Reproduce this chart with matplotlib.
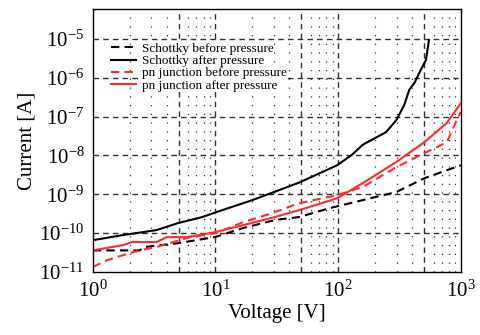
import matplotlib
matplotlib.use("Agg")
import matplotlib.pyplot as plt
import numpy as np

plt.rcParams['font.family'] = ['Liberation Serif', 'DejaVu Serif']
plt.rcParams['mathtext.fontset'] = 'stix'

# Schottky before pressure (black dashed)
v_sb = [1, 2.4, 2.65, 4.9, 10, 16.7, 31, 48, 85, 159, 298, 505, 1000]
i_sb = [3.6e-11, 3.6e-11, 4.4e-11, 5.5e-11, 8.0e-11, 1.35e-10, 2.2e-10, 2.6e-10,
        4.4e-10, 7.1e-10, 1.15e-9, 2.6e-9, 5.6e-9]

# Schottky after pressure (black solid)
v_sa = [1, 1.75, 3.3, 4.9, 7.8, 10.2, 20, 48, 98, 130, 159, 200, 246, 298, 346, 380,
        420, 457, 520, 550]
i_sa = [6.6e-11, 8.9e-11, 1.2e-10, 1.8e-10, 2.6e-10, 3.5e-10, 7.1e-10, 2.0e-9,
        5.6e-9, 1.05e-8, 1.9e-8, 2.8e-8, 4.0e-8, 8.1e-8, 2.0e-7, 4.9e-7,
        7.5e-7, 1.3e-6, 2.9e-6, 9.3e-6]

# pn junction before pressure (red dashed)
v_pb = [1, 1.3, 1.75, 2.4, 3.3, 4.2, 5.1, 6.2, 10, 16.7, 29, 48, 98, 159, 298, 505, 770, 940, 1000]
i_pb = [1.35e-11, 2.0e-11, 2.7e-11, 3.6e-11, 4.4e-11, 5.5e-11, 6.6e-11, 7.9e-11,
        1.0e-10, 1.9e-10, 3.3e-10, 5.9e-10, 9.5e-10, 1.55e-9, 5.0e-9, 1.15e-8,
        2.2e-8, 9.1e-8, 1.3e-7]

# pn junction after pressure (red solid)
v_pa = [1, 1.75, 2.1, 3.3, 4.0, 5.8, 7.4, 10, 16.7, 29, 48, 98, 159, 298, 505, 770, 1000]
i_pa = [3.6e-11, 4.9e-11, 5.9e-11, 5.9e-11, 7.9e-11, 7.9e-11, 8.9e-11, 1.07e-10,
        1.6e-10, 2.5e-10, 3.9e-10, 7.9e-10, 1.95e-9, 6.8e-9, 2.2e-8, 6.9e-8, 2.2e-7]

labels = ['Schottky before pressure', 'Schottky after pressure',
          'pn junction before pressure', 'pn junction after pressure']

fig = plt.figure(figsize=(4.81, 3.35), dpi=100)
ax = fig.add_axes([0.193, 0.188, 0.765, 0.785])
ax.set_xscale('log')
ax.set_yscale('log')
ax.set_xlim(1, 1000)
ax.set_ylim(1e-11, 10 ** -4.23)

# grid: dashed at decades and at 5x, dotted at the other minor positions
gcol = '#303030'
for dec in [1, 10, 100]:
    for m in range(2, 10):
        x = dec * m
        if m == 5:
            ax.axvline(x, color=gcol, ls=(0, (4, 3)), lw=1.0, zorder=0)
        else:
            ax.axvline(x, color=gcol, ls=(0, (1, 6)), lw=0.9, zorder=0)
for x in [10, 100]:
    ax.axvline(x, color=gcol, ls=(0, (4, 3)), lw=1.0, zorder=0)
for e in range(-10, -4):
    ax.axhline(10.0 ** e, color=gcol, ls=(0, (4, 3)), lw=1.0, zorder=0)

red = '#ff2a2a'
ax.plot(v_sb, i_sb, color='black', ls=(0, (4, 2.5)), lw=1.5, label=labels[0])
ax.plot(v_sa, i_sa, color='black', ls='-', lw=1.5, label=labels[1])
ax.plot(v_pb, i_pb, color=red, ls=(0, (4, 2.5)), lw=1.5, label=labels[2])
ax.plot(v_pa, i_pa, color=red, ls='-', lw=1.5, label=labels[3])

ax.set_xticks([1, 10, 100, 1000])
ax.set_yticks([1e-11, 1e-10, 1e-9, 1e-8, 1e-7, 1e-6, 1e-5])
ax.xaxis.set_minor_locator(matplotlib.ticker.NullLocator())
ax.yaxis.set_minor_locator(matplotlib.ticker.NullLocator())
ax.tick_params(length=0, labelsize=15, pad=6)

ax.set_xlabel('Voltage [V]', fontsize=15, labelpad=2)
ax.set_ylabel('Current [A]', fontsize=15, labelpad=2)

for s in ax.spines.values():
    s.set_linewidth(1.0)

leg = ax.legend(loc='upper left', bbox_to_anchor=(0.05, 0.872), frameon=False,
                fontsize=9.5, handlelength=1.9, handletextpad=0.45,
                labelspacing=0.0, borderaxespad=0, borderpad=0)
# the text of the legend hides the grid behind it
for t in leg.get_texts():
    t.set_bbox(dict(facecolor='white', edgecolor='none', pad=0.2))

fig.savefig('out.png', dpi=100)
